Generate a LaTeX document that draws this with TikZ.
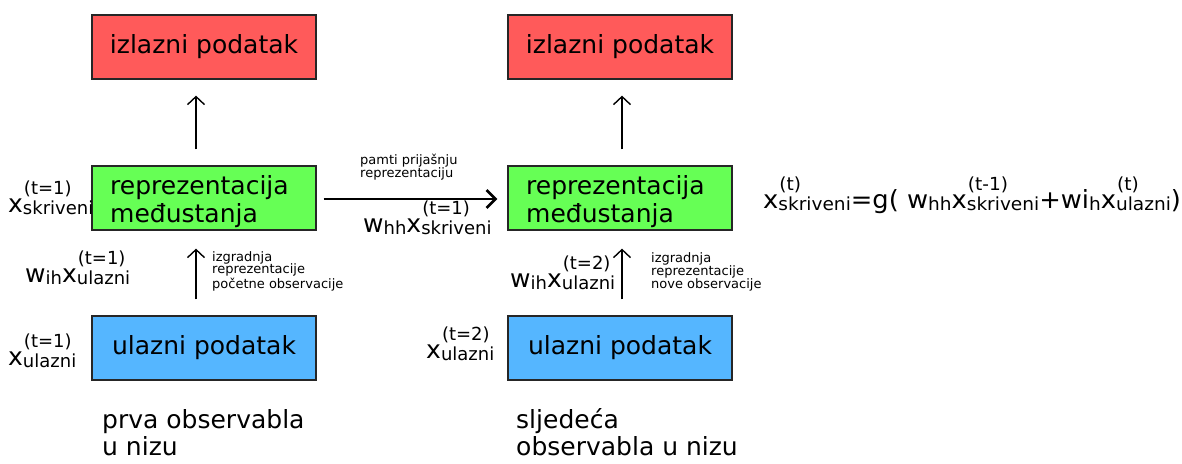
\documentclass[tikz,border=0pt]{standalone}
\usepackage{fontspec}
\setmainfont{DejaVu Sans}
\usetikzlibrary{arrows.meta}
\definecolor{outred}{RGB}{255,90,90}
\definecolor{midgreen}{RGB}{102,255,85}
\definecolor{inblue}{RGB}{85,182,255}
\newcommand{\myscr}{\fontsize{18}{18}\selectfont}
\newcommand{\mysub}[1]{\raisebox{-2.5pt}{\myscr #1}}
\newcommand{\mysx}[3]{#1\rlap{\raisebox{18pt}{\myscr\kern1pt #2}}\raisebox{-2.5pt}{\myscr #3}}
\begin{document}
\begin{tikzpicture}[x=1pt,y=-1pt,
  box/.style={draw=black!85,line width=1.3pt,minimum width=224pt,minimum height=64pt,inner sep=0pt,font=\fontsize{25}{28}\selectfont},
  gtext/.style={inner sep=0pt,anchor=base west,align=left,font=\fontsize{25}{28}\selectfont},
  lab/.style={inner sep=0pt,anchor=base west,font=\fontsize{25}{30}\selectfont},
  small/.style={inner sep=0pt,anchor=base west,align=left,font=\fontsize{13}{12.8}\selectfont},
  big/.style={inner sep=0pt,anchor=base west,align=left,font=\fontsize{25}{27}\selectfont},
  up/.style={line width=1.4pt,-{Straight Barb[length=8pt,width=17pt]}},
  rec/.style={line width=2.6pt,-{Straight Barb[length=9pt,width=18pt]}}
]
\useasboundingbox (0,0) rectangle (1182,463);
% boxes
\node[box,fill=outred] (r1) at (204,47) {izlazni podatak};
\node[box,fill=outred] (r2) at (620,47) {izlazni podatak};
\node[box,fill=midgreen] (g1) at (204,198) {};
\node[box,fill=midgreen] (g2) at (620,198) {};
\node[gtext] (g1t) at (110,222) {reprezentacija\\međustanja};
\node[gtext] (g2t) at (526,222) {reprezentacija\\međustanja};
\node[box,fill=inblue] (b1) at (204,348) {ulazni podatak};
\node[box,fill=inblue] (b2) at (620,348) {ulazni podatak};
% arrows
\draw[up] ([xshift=-8pt,yshift=16pt]g1.north) -- ([xshift=-8pt,yshift=-16pt]r1.south);
\draw[up] ([xshift=2pt,yshift=16pt]g2.north) -- ([xshift=2pt,yshift=-16pt]r2.south);
\draw[up] ([xshift=-8pt,yshift=16pt]b1.north) -- ([xshift=-8pt,yshift=-18pt]g1.south);
\draw[up] ([xshift=2pt,yshift=16pt]b2.north) -- ([xshift=2pt,yshift=-18pt]g2.south);
\draw[rec] ([xshift=7pt,yshift=-1pt]g1.east) -- ([xshift=-10pt,yshift=-1pt]g2.west);
% labels
\node[lab] (ls1) at (8,212) {\mysx{x}{(t=1)}{skriveni}};
\node[lab] (lw1) at (25,282) {w\mysub{ih}\mysx{x}{(t=1)}{ulazni}};
\node[lab] (lu1) at (8,365) {\mysx{x}{(t=1)}{ulazni}};
\node[lab] (lu2) at (426,358) {\mysx{x}{(t=2)}{ulazni}};
\node[lab] (lw2) at (510,287) {w\mysub{ih}\mysx{x}{(t=2)}{ulazni}};
\node[lab] (lhh) at (363,232) {w\mysub{hh}\mysx{x}{(t=1)}{skriveni}};
\node[lab] (eq) at (763,208) {\scalebox{1.03}[1]{\mysx{x}{(t)}{skriveni}=g( w\mysub{hh}\mysx{x}{(t-1)}{skriveni}+wi\mysub{h}\mysx{x}{(t)}{ulazni})}};
\node[small] (pam) at (360,177) {pamti prijašnju\\reprezentaciju};
\node[small] (iz1) at (212,288) {izgradnja\\reprezentacije\\početne observacije};
\node[small] (iz2) at (651,288) {izgradnja\\reprezentacije\\nove observacije};
\node[big] (o1) at (102,455) {prva observabla\\u nizu};
\node[big] (o2) at (516,455) {sljedeća\\observabla u nizu};
\end{tikzpicture}
\end{document}
